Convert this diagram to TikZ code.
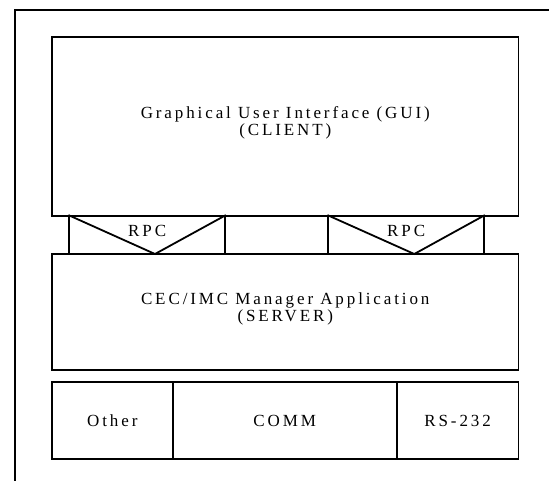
\documentclass[tikz,border=0pt]{standalone}
\usepackage{fontspec}
\setmainfont{Liberation Serif}
\newfontfamily\spaced{Liberation Serif}[LetterSpace=17]
\begin{document}
\begin{tikzpicture}[x=1pt,y=-1pt,
  box/.style={draw, line width=1.8pt, inner sep=0pt, align=center,
    font=\spaced\fontsize{17}{17}\selectfont},
  lbl/.style={inner sep=0pt, align=center, font=\spaced\fontsize{17}{17}\selectfont},
  vline/.style={line width=1.8pt}]
\useasboundingbox (0,0) rectangle (549,481);
% outer frame
\coordinate (fbl) at (15,481);
\coordinate (ftl) at (15,10);
\coordinate (ftr) at (549,10);
\draw[line width=2.2pt] (fbl) -- (ftl) -- (ftr);
% GUI
\node[box, minimum width=466.5pt, minimum height=179pt] (gui) at (285.25,126.5) {};
\node[lbl] (guit) at (285.25,123) {Graphical User Interface (GUI)\\(CLIENT)};
% RPC boxes
\node[box, minimum width=155.7pt, minimum height=38pt] (rpc1) at (147.15,235) {};
\node[box, minimum width=155.7pt, minimum height=38pt] (rpc2) at (406.15,235) {};
\coordinate (apex1) at (155,254);
\coordinate (apex2) at (414.3,254);
\draw[vline] (rpc1.north west) -- (apex1) -- (rpc1.north east);
\draw[vline] (rpc2.north west) -- (apex2) -- (rpc2.north east);
\node[lbl, anchor=base] (rpc1t) at (147.15,236.5) {RPC};
\node[lbl, anchor=base] (rpc2t) at (406.15,236.5) {RPC};
% server
\node[box, minimum width=466.5pt, minimum height=116pt] (srv) at (285.25,312) {};
\node[lbl] (srvt) at (285.25,308.5) {CEC/IMC Manager Application\\(SERVER)};
% bottom row
\node[box, minimum width=120.7pt, minimum height=77.6pt] (other) at (112.35,420.5) {Other};
\node[box, minimum width=224pt, minimum height=77.6pt] (comm) at (284.7,420.5) {COMM};
\node[box, minimum width=121.8pt, minimum height=77.6pt] (rs) at (457.6,420.5) {RS-232};
\end{tikzpicture}
\end{document}
